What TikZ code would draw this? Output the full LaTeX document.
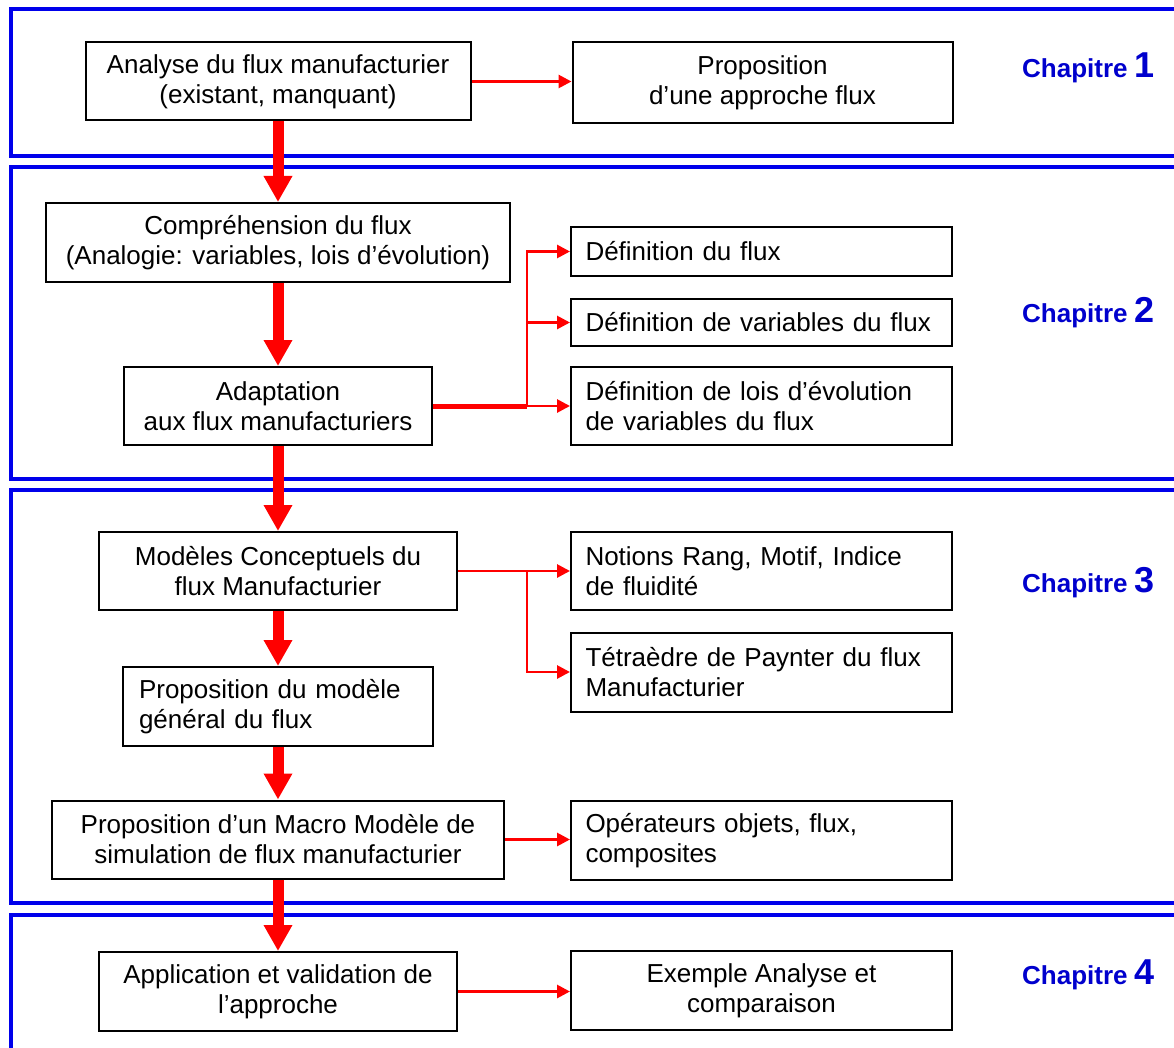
\documentclass[tikz,border=0pt]{standalone}
\usepackage{fontspec}
\setmainfont{Liberation Sans}
\usetikzlibrary{arrows.meta}
\definecolor{bandblue}{RGB}{0,0,235}
\definecolor{chapblue}{RGB}{0,0,205}
\definecolor{flowred}{RGB}{255,0,0}
\begin{document}
\begin{tikzpicture}[x=1pt,y=-1pt,
  band/.style={draw=bandblue, line width=3.5pt, line join=miter},
  box/.style={draw=black, line width=2pt, fill=white, inner sep=0pt,
    font=\fontsize{26}{30}\selectfont},
  cbox/.style={box, align=center},
  lbox/.style={box, align=left, text width=352pt},
  bigarrow/.style={draw=flowred, line width=11pt, -{Triangle[width=27pt,length=26pt]}},
  thinarrow/.style={draw=flowred, line width=2.8pt, -{Triangle[width=13pt,length=13pt]}},
  thinline/.style={draw=flowred, line width=2.8pt},
  thickline/.style={draw=flowred, line width=5pt},
  chap/.style={text=chapblue, font=\fontsize{26}{30}\selectfont\bfseries, inner sep=0pt, anchor=base west}
]
\useasboundingbox (0,0) rectangle (1174,1048);
\fill[white] (0,0) rectangle (1174,1048);

% chapter bands
\draw[band] (1185,9) -- (11,9) -- (11,156) -- (1185,156);
\draw[band] (1185,167) -- (11,167) -- (11,479) -- (1185,479);
\draw[band] (1185,490) -- (11,490) -- (11,903) -- (1185,903);
\draw[band] (1185,915) -- (11,915) -- (11,1060);

% chapter labels
\node[chap] (ch1) at (1022,78) {Chapitre {\fontsize{36}{40}\selectfont 1}};
\node[chap] (ch2) at (1022,322) {Chapitre {\fontsize{36}{40}\selectfont 2}};
\node[chap] (ch3) at (1022,592) {Chapitre {\fontsize{36}{40}\selectfont 3}};
\node[chap] (ch4) at (1022,984) {Chapitre {\fontsize{36}{40}\selectfont 4}};

% left column
\node[cbox, minimum width=385pt, minimum height=78pt] (A) at (278,81.5)
  {Analyse du flux manufacturier\\(existant, manquant)};
\node[cbox, minimum width=464pt, minimum height=79pt] (C) at (278,242.5)
  {Compréhension du flux\\(Analogie: variables, lois d’évolution)};
\node[cbox, minimum width=308pt, minimum height=78pt] (D) at (278,406)
  {Adaptation\\aux flux manufacturiers};
\node[cbox, minimum width=358pt, minimum height=78pt] (F) at (278,571)
  {Modèles Conceptuels du\\flux Manufacturier};
\node[box, align=left, text width=278pt, minimum width=310pt, minimum height=79pt] (H) at (278,706.5)
  {Proposition du modèle\\général du flux};
\node[cbox, minimum width=452pt, minimum height=78pt] (I) at (278,839.5)
  {Proposition d’un Macro Modèle de\\simulation de flux manufacturier};
\node[cbox, minimum width=358pt, minimum height=79pt] (K) at (278,991.5)
  {Application et validation de\\l’approche};

% right column
\node[cbox, minimum width=380pt, minimum height=81pt] (B) at (762.5,82.5)
  {Proposition\\d’une approche flux};
\node[lbox, minimum width=381pt, minimum height=49pt] (E1) at (761.5,251.5)
  {Définition du flux};
\node[lbox, minimum width=381pt, minimum height=47pt] (E2) at (761.5,322.5)
  {Définition de variables du flux};
\node[lbox, minimum width=381pt, minimum height=78pt] (E3) at (761.5,406)
  {Définition de lois d’évolution\\de variables du flux};
\node[lbox, minimum width=381pt, minimum height=78pt] (G1) at (761.5,571)
  {Notions Rang, Motif, Indice\\de fluidité};
\node[lbox, minimum width=381pt, minimum height=79pt] (G2) at (761.5,672)
  {Tétraèdre de Paynter du flux\\Manufacturier};
\node[lbox, minimum width=381pt, minimum height=79pt] (J) at (761.5,840.5)
  {Opérateurs objets, flux,\\composites};
\node[cbox, minimum width=381pt, minimum height=79pt] (L) at (761.5,990.5)
  {Exemple Analyse et\\comparaison};

% main flow
\draw[bigarrow] (A.south) -- (C.north);
\draw[bigarrow] (C.south) -- (D.north);
\draw[bigarrow] (D.south) -- (F.north);
\draw[bigarrow] (F.south) -- (H.north);
\draw[bigarrow] (H.south) -- (I.north);
\draw[bigarrow] (I.south) -- (K.north);

% side arrows
\draw[thinarrow] (A.east) -- (A.east -| B.west);

\coordinate (br1) at (527,406);
\draw[thickline] (D.east) -- (br1);
\draw[thinarrow] (br1) -- (E3.west);
\draw[thinarrow] (br1) |- (E2.west);
\draw[thinarrow] (br1) |- (E1.west);

\coordinate (br2) at (527,571);
\draw[thinline] (F.east) -- (br2);
\draw[thinarrow] (br2) -- (G1.west);
\draw[thinarrow] (br2) |- (G2.west);

\draw[thinarrow] (I.east) -- (I.east -| J.west);
\draw[thinarrow] (K.east) -- (K.east -| L.west);
\end{tikzpicture}
\end{document}
